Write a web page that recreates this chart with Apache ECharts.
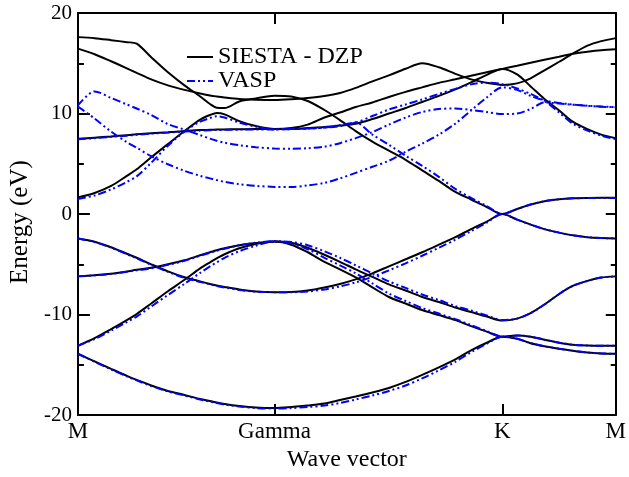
<!DOCTYPE html>
<html>
<head>
<meta charset="utf-8">
<script src="https://cdn.jsdelivr.net/npm/echarts@6/dist/echarts.min.js"></script>
<style>
  html, body { margin: 0; padding: 0; background: #fff; }
  #chart { width: 629px; height: 477px; }
</style>
</head>
<body>
<div id="chart"></div>
<script>
// path M - Gamma - K - M, distance in units of |M-Gamma|
const kDist = [0, 0.085, 0.169, 0.249, 0.299, 0.373, 0.458, 0.542, 0.622, 0.672, 0.706, 0.746, 0.821, 0.905,
  1.000, 1.085, 1.169, 1.254, 1.333, 1.413, 1.498, 1.582, 1.667, 1.751, 1.836, 1.920, 2.000, 2.080,
  2.159, 2.234, 2.303, 2.373, 2.448, 2.517, 2.592, 2.662, 2.736]
const kTicks = [0, 1, 2.159, 2.736]
const kLabels = ['M', 'Gamma', 'K', 'M']

// SIESTA - DZP bands (eV)
const siesta1 = [-13.9, -14.65, -15.4, -16.1, -16.5, -17.05, -17.6, -18.0, -18.4, -18.6, -18.75, -18.9, -19.1, -19.25,
  -19.3, -19.2, -19.05, -18.85, -18.5, -18.15, -17.75, -17.3, -16.7, -16.0, -15.25, -14.45, -13.55, -12.8,
  -12.2, -12.4, -12.85, -13.15, -13.4, -13.6, -13.78, -13.87, -13.9]
const siesta2 = [-13.1, -12.35, -11.45, -10.55, -9.95, -8.9, -7.68, -6.54, -5.4, -4.8, -4.42, -4.0, -3.4, -2.98,
  -2.72, -3.05, -3.8, -4.75, -5.5, -6.3, -7.3, -8.25, -8.9, -9.55, -10.05, -10.55, -11.15, -11.7,
  -12.2, -12.07, -12.2, -12.5, -12.8, -13.0, -13.08, -13.1, -13.1]
const siesta3 = [-6.2, -6.1, -5.95, -5.72, -5.55, -5.35, -5.0, -4.6, -4.1, -3.8, -3.6, -3.4, -3.1, -2.88,
  -2.72, -2.85, -3.35, -4.05, -4.75, -5.5, -6.25, -7.0, -7.6, -8.25, -8.75, -9.3, -9.75, -10.2,
  -10.6, -10.4, -9.85, -9.0, -7.95, -7.15, -6.65, -6.32, -6.2]
const siesta4 = [-2.44, -2.75, -3.3, -3.95, -4.35, -5.0, -5.7, -6.28, -6.7, -6.95, -7.1, -7.25, -7.5, -7.7,
  -7.77, -7.75, -7.6, -7.3, -6.95, -6.5, -5.9, -5.2, -4.5, -3.8, -3.05, -2.3, -1.5, -0.75,
  0, -0.55, -1.05, -1.5, -1.85, -2.12, -2.3, -2.38, -2.42]
const siesta5 = [1.66, 2.1, 2.8, 3.8, 4.45, 5.65, 6.96, 8.26, 9.4, 9.85, 10.05, 9.92, 9.24, 8.75,
  8.45, 8.45, 8.55, 8.65, 8.8, 8.98, 9.45, 10.0, 10.55, 11.15, 11.75, 12.4, 13.1, 13.85,
  14.44, 13.9, 12.7, 11.45, 10.3, 9.2, 8.45, 7.9, 7.55]
const siesta6 = [7.48, 7.6, 7.72, 7.85, 7.93, 8.03, 8.14, 8.25, 8.35, 8.38, 8.4, 8.42, 8.44, 8.46,
  8.45, 8.55, 8.9, 9.6, 10.1, 10.65, 11.1, 11.65, 12.15, 12.6, 13.05, 13.4, 13.75, 14.1,
  14.44, 14.75, 15.05, 15.35, 15.65, 15.95, 16.15, 16.3, 16.4]
const siesta7 = [16.46, 15.9, 15.2, 14.5, 14.05, 13.4, 12.8, 12.35, 12.0, 11.8, 11.7, 11.6, 11.45, 11.38,
  11.35, 11.42, 11.55, 11.75, 12.05, 12.55, 13.2, 13.8, 14.45, 15.0, 14.6, 13.95, 13.4, 13.05,
  12.85, 13.0, 13.5, 14.3, 15.15, 15.95, 16.75, 17.2, 17.5]
const siesta8 = [17.6, 17.5, 17.3, 17.1, 16.95, 15.6, 14.1, 12.8, 11.7, 10.95, 10.58, 10.54, 11.2, 11.5,
  11.78, 11.7, 11.25, 10.35, 9.35, 8.25, 7.2, 6.3, 5.4, 4.35, 3.3, 2.2, 1.45, 0.7,
  0, 0.5, 0.95, 1.28, 1.47, 1.56, 1.6, 1.62, 1.62]

// VASP bands (eV)
const vasp1 = [-13.9, -14.7, -15.45, -16.15, -16.55, -17.1, -17.65, -18.05, -18.45, -18.65, -18.8, -18.95, -19.15, -19.3,
  -19.35, -19.3, -19.2, -19.05, -18.8, -18.45, -18.05, -17.6, -17.05, -16.35, -15.55, -14.7, -13.75, -12.9,
  -12.2, -12.4, -12.85, -13.15, -13.4, -13.6, -13.78, -13.87, -13.9]
const vasp2 = [-13.1, -12.45, -11.6, -10.75, -10.2, -9.2, -8.05, -6.95, -5.85, -5.2, -4.8, -4.35, -3.7, -3.15,
  -2.72, -2.95, -3.5, -4.35, -5.1, -5.9, -6.9, -7.9, -8.65, -9.35, -9.9, -10.45, -11.05, -11.65,
  -12.2, -12.07, -12.2, -12.5, -12.8, -13.0, -13.08, -13.1, -13.1]
const vasp3 = [-6.2, -6.1, -5.95, -5.75, -5.6, -5.4, -5.05, -4.65, -4.15, -3.85, -3.65, -3.45, -3.1, -2.85,
  -2.7, -2.78, -3.1, -3.7, -4.35, -5.1, -5.9, -6.7, -7.35, -8.0, -8.55, -9.15, -9.6, -10.1,
  -10.55, -10.4, -9.85, -9.0, -7.95, -7.15, -6.65, -6.32, -6.2]
const vasp4 = [-2.44, -2.78, -3.35, -4.0, -4.4, -5.05, -5.75, -6.35, -6.75, -7.0, -7.15, -7.3, -7.55, -7.72,
  -7.77, -7.78, -7.7, -7.5, -7.2, -6.8, -6.25, -5.6, -4.9, -4.15, -3.35, -2.55, -1.7, -0.85,
  0, -0.55, -1.05, -1.5, -1.85, -2.12, -2.3, -2.38, -2.42]
const vasp5 = [1.5, 1.85, 2.45, 3.2, 3.75, 5.1, 6.8, 8.2, 9.2, 9.55, 9.73, 9.6, 9.1, 8.7,
  8.42, 8.45, 8.5, 8.6, 8.85, 9.1, 7.9, 6.9, 5.8, 4.8, 3.7, 2.5, 1.6, 0.8,
  0, 0.5, 0.95, 1.28, 1.47, 1.56, 1.6, 1.6, 1.6]
const vasp6 = [7.45, 7.55, 7.68, 7.8, 7.88, 8.0, 8.1, 8.2, 8.3, 8.33, 8.36, 8.38, 8.4, 8.42,
  8.42, 8.45, 8.5, 8.6, 8.75, 9.1, 9.75, 10.4, 10.9, 11.4, 11.95, 12.45, 12.9, 13.07,
  12.92, 12.5, 11.95, 11.25, 10.1, 9.0, 8.3, 7.8, 7.45]
const vasp7 = [10.7, 9.5, 8.2, 7.15, 6.6, 5.75, 4.95, 4.3, 3.8, 3.55, 3.38, 3.2, 2.97, 2.8,
  2.7, 2.68, 2.85, 3.1, 3.55, 4.1, 4.7, 5.3, 6.2, 7.0, 7.9, 9.0, 10.3, 11.6,
  12.6, 12.35, 11.75, 11.3, 11.05, 10.9, 10.78, 10.7, 10.63]
const vasp8 = [10.8, 12.2, 11.55, 10.9, 10.5, 9.85, 8.95, 8.4, 7.85, 7.5, 7.3, 7.1, 6.85, 6.65,
  6.52, 6.5, 6.55, 6.7, 7.05, 7.55, 8.15, 8.9, 9.6, 10.15, 10.45, 10.5, 10.35, 10.15,
  9.95, 10.0, 10.45, 11.1, 11.0, 10.88, 10.76, 10.68, 10.63]

const siestaBands = [siesta1, siesta2, siesta3, siesta4, siesta5, siesta6, siesta7, siesta8]
const vaspBands = [vasp1, vasp2, vasp3, vasp4, vasp5, vasp6, vasp7, vasp8]

const font = 'Liberation Serif'
const black = '#000'
const blue = '#0000ff'

function bandSeries (name, band, color, dash, z) {
  return {
    name: name,
    type: 'line',
    data: band.map((e, i) => [kDist[i], e]),
    showSymbol: false,
    symbol: 'none',
    smooth: 0.3,
    silent: true,
    z: z,
    lineStyle: { color: color, width: 2, type: dash },
    itemStyle: { color: color }
  }
}

const series = []
siestaBands.forEach(b => series.push(bandSeries('SIESTA - DZP', b, black, 'solid', 2)))
vaspBands.forEach(b => series.push(bandSeries('VASP', b, blue, [8, 3, 2, 3, 2, 3], 3)))

const frame = { show: true, onZero: false, lineStyle: { color: black, width: 2 } }

const chart = echarts.init(document.getElementById('chart'))
chart.setOption({
  animation: false,
  backgroundColor: '#fff',
  grid: { left: 68, right: 11, top: 13, bottom: 54 },
  legend: {
    data: ['SIESTA - DZP', 'VASP'],
    orient: 'vertical',
    left: 186,
    top: 45,
    padding: 0,
    itemGap: 0,
    itemWidth: 26,
    itemHeight: 14,
    selectedMode: false,
    itemStyle: { opacity: 0 },
    textStyle: { fontFamily: font, fontSize: 24, color: black }
  },
  xAxis: [{
    type: 'value',
    position: 'bottom',
    min: 0,
    max: 2.736,
    axisLine: frame,
    axisTick: { show: true, inside: true, length: 11, customValues: [1, 2.159], lineStyle: { color: black, width: 2 } },
    axisLabel: {
      customValues: kTicks,
      formatter: function (v) {
        const i = kTicks.findIndex(t => Math.abs(t - v) < 1e-6)
        return i >= 0 ? kLabels[i] : ''
      },
      fontFamily: font,
      fontSize: 23,
      color: black,
      margin: 5
    },
    splitLine: { show: false },
    name: 'Wave vector',
    nameLocation: 'middle',
    nameGap: 28,
    nameTextStyle: { fontFamily: font, fontSize: 24, color: black }
  }, {
    type: 'value',
    position: 'top',
    min: 0,
    max: 2.736,
    axisLine: frame,
    axisTick: { show: true, inside: true, length: 11, customValues: [1, 2.159], lineStyle: { color: black, width: 2 } },
    axisLabel: { show: false },
    splitLine: { show: false }
  }],
  yAxis: [{
    type: 'value',
    position: 'left',
    min: -20,
    max: 20,
    interval: 10,
    axisLine: frame,
    axisTick: { show: true, inside: true, length: 12, lineStyle: { color: black, width: 2 } },
    minorTick: { show: true, splitNumber: 2, length: 6, lineStyle: { color: black, width: 2 } },
    axisLabel: { fontFamily: font, fontSize: 21, color: black, margin: 6 },
    splitLine: { show: false },
    name: 'Energy (eV)',
    nameLocation: 'middle',
    nameGap: 38,
    nameTextStyle: { fontFamily: font, fontSize: 25, color: black, padding: [0, 16, 0, 0] }
  }, {
    type: 'value',
    position: 'right',
    min: -20,
    max: 20,
    interval: 10,
    axisLine: frame,
    axisTick: { show: true, inside: true, length: 10, lineStyle: { color: black, width: 2 } },
    minorTick: { show: true, splitNumber: 2, length: 5, lineStyle: { color: black, width: 2 } },
    axisLabel: { show: false },
    splitLine: { show: false }
  }],
  series: series
})
</script>
</body>
</html>
